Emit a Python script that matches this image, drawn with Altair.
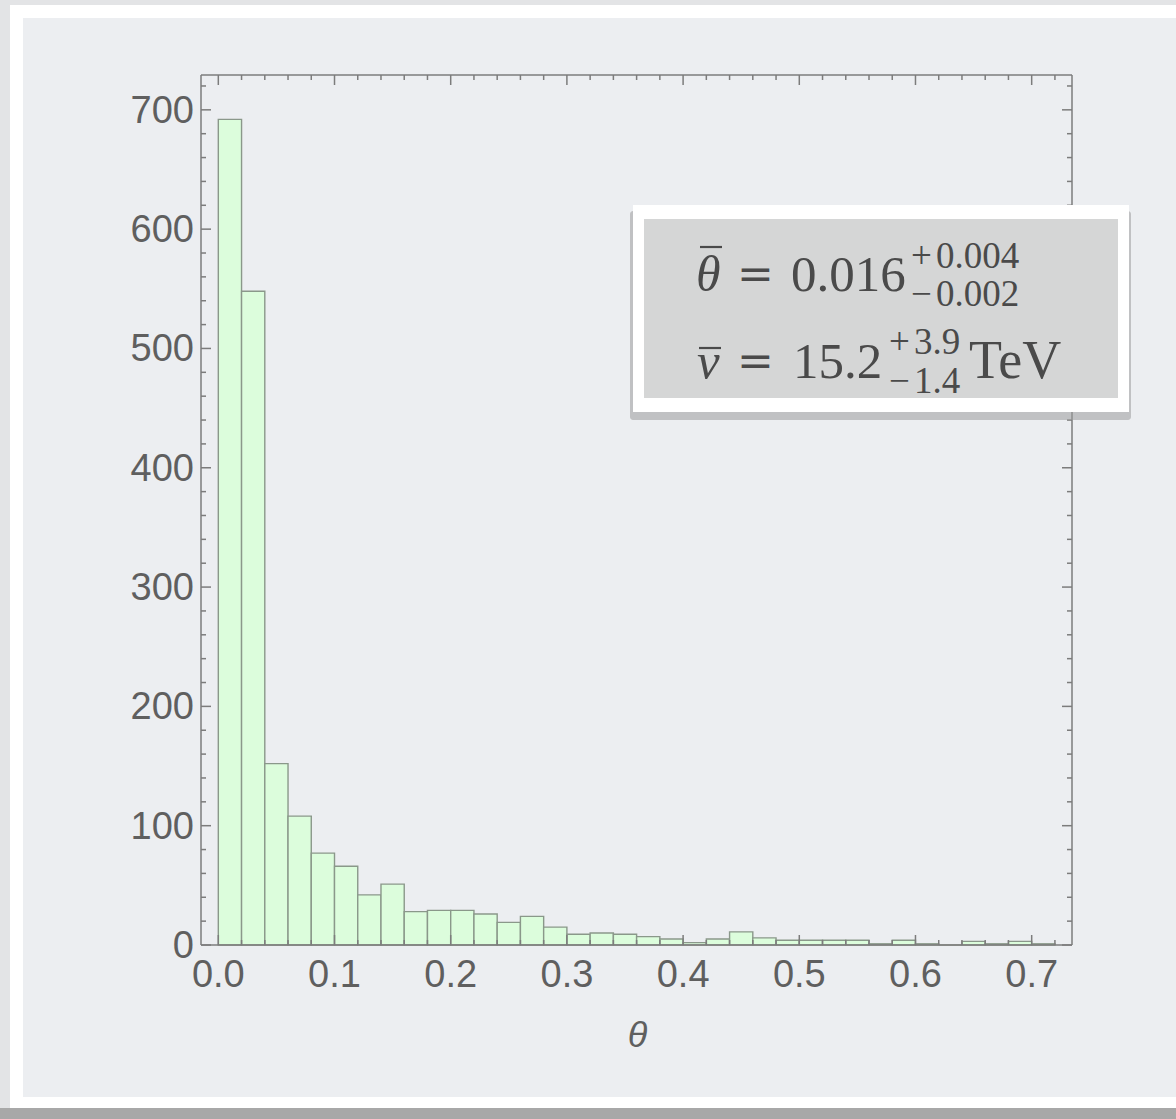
import altair as alt
import pandas as pd

# ---------------- data ----------------
bin_start = [0.00, 0.02, 0.04, 0.06, 0.08, 0.10, 0.12, 0.14, 0.16, 0.18,
             0.20, 0.22, 0.24, 0.26, 0.28, 0.30, 0.32, 0.34, 0.36, 0.38,
             0.40, 0.42, 0.44, 0.46, 0.48, 0.50, 0.52, 0.54, 0.56, 0.58,
             0.60, 0.62, 0.64, 0.66, 0.68, 0.70]
bin_width = 0.02
counts = [692, 548, 152, 108, 77, 66, 42, 51, 28, 29,
          29, 26, 19, 24, 15, 9, 10, 9, 7, 5,
          2, 5, 11, 6, 4, 4, 4, 4, 1, 4,
          1, 0, 3, 1, 3, 1]

x_major = [0.0, 0.1, 0.2, 0.3, 0.4, 0.5, 0.6, 0.7]
x_minor = [0.02, 0.04, 0.06, 0.08, 0.12, 0.14, 0.16, 0.18, 0.22, 0.24,
           0.26, 0.28, 0.32, 0.34, 0.36, 0.38, 0.42, 0.44, 0.46, 0.48,
           0.52, 0.54, 0.56, 0.58, 0.62, 0.64, 0.66, 0.68, 0.72]
y_major = [0, 100, 200, 300, 400, 500, 600, 700]
y_minor = [20, 40, 60, 80, 120, 140, 160, 180, 220, 240, 260, 280, 320, 340,
           360, 380, 420, 440, 460, 480, 520, 540, 560, 580, 620, 640, 660,
           680, 720]

x_domain = [-0.0149, 0.7347]
y_domain = [0, 729.2]

# ---------------- layout ----------------
W, H = 871, 870
PAD = {"left": 201, "top": 75, "right": 104, "bottom": 174}

AXIS_GRAY = "#7c7c7c"
LABEL_GRAY = "#5f5f5f"
TEXT_DARK = "#4a4a4a"

bars_df = pd.DataFrame({"start": bin_start, "count": counts})
bars_df["end"] = bars_df["start"] + bin_width
one = pd.DataFrame({"k": [0]})

xs = alt.Scale(domain=x_domain, nice=False, zero=False)
ys = alt.Scale(domain=y_domain, nice=False, zero=False)


def deco_rect(x, x2, y, y2, fill, opacity=1.0, r=0):
    return alt.Chart(one).mark_rect(fill=fill, opacity=opacity, cornerRadius=r).encode(
        x=alt.value(x), x2=alt.value(x2), y=alt.value(y), y2=alt.value(y2))


def deco_rule(x, x2, y, y2, color=AXIS_GRAY, width=1.5):
    return alt.Chart(one).mark_rule(color=color, strokeWidth=width).encode(
        x=alt.value(x), x2=alt.value(x2), y=alt.value(y), y2=alt.value(y2))


def txt(s, x, y, size, italic=False, font="Liberation Serif", color=TEXT_DARK):
    return alt.Chart(one).mark_text(
        text=s, font=font, fontSize=size,
        fontStyle="italic" if italic else "normal",
        align="left", baseline="alphabetic", color=color,
    ).encode(x=alt.value(x), y=alt.value(y))


# slide-style background
bg_white = deco_rect(-191, 990, -70, 1033, "#ffffff")
bg_inner = deco_rect(-178, 990, -57, 1022, "#eceef1")
bg_shadow = deco_rect(-201, 990, 1033, 1044, "#a8a8a8")

# histogram bars
bars = alt.Chart(bars_df).mark_rect(
    fill="#dcfddc", stroke="#8a988a", strokeWidth=1.4
).encode(
    x=alt.X("start:Q", scale=xs, axis=None),
    x2="end:Q",
    y=alt.Y("count:Q", scale=ys, axis=None),
    y2=alt.datum(0),
)

# frame
frame = [
    deco_rule(0, W, 0, 0),
    deco_rule(0, W, H, H),
    deco_rule(0, 0, 0, H),
    deco_rule(W, W, 0, H),
]


# inward ticks on all four sides
def xticks(values, length):
    d = pd.DataFrame({"v": values})
    bottom = alt.Chart(d).mark_rule(color=AXIS_GRAY, strokeWidth=1.5).encode(
        x=alt.X("v:Q", scale=xs, axis=None),
        y=alt.value(H), y2=alt.value(H - length))
    top = alt.Chart(d).mark_rule(color=AXIS_GRAY, strokeWidth=1.5).encode(
        x=alt.X("v:Q", scale=xs, axis=None),
        y=alt.value(0), y2=alt.value(length))
    return [bottom, top]


def yticks(values, length):
    d = pd.DataFrame({"v": values})
    left = alt.Chart(d).mark_rule(color=AXIS_GRAY, strokeWidth=1.5).encode(
        y=alt.Y("v:Q", scale=ys, axis=None),
        x=alt.value(0), x2=alt.value(length))
    right = alt.Chart(d).mark_rule(color=AXIS_GRAY, strokeWidth=1.5).encode(
        y=alt.Y("v:Q", scale=ys, axis=None),
        x=alt.value(W), x2=alt.value(W - length))
    return [left, right]


ticks = xticks(x_major, 10) + xticks(x_minor, 5) + yticks(y_major, 10) + yticks(y_minor, 5)

# tick labels (through the scales)
x_labels = alt.Chart(pd.DataFrame({"v": x_major})).mark_text(
    font="Liberation Sans", fontSize=38, color=LABEL_GRAY,
    align="center", baseline="alphabetic"
).encode(
    x=alt.X("v:Q", scale=xs, axis=None),
    y=alt.value(H + 42),
    text=alt.Text("v:Q", format=".1f"),
)
y_labels = alt.Chart(pd.DataFrame({"v": y_major})).mark_text(
    font="Liberation Sans", fontSize=38, color=LABEL_GRAY,
    align="right", baseline="alphabetic", dy=13
).encode(
    y=alt.Y("v:Q", scale=ys, axis=None),
    x=alt.value(-7),
    text=alt.Text("v:Q", format="d"),
)

# axis title
x_title = alt.Chart(one).mark_text(
    text="θ", font="Liberation Sans", fontSize=36, fontStyle="italic",
    align="center", baseline="alphabetic", color=LABEL_GRAY
).encode(x=alt.value(W / 2 + 1), y=alt.value(972))

# inset annotation box
box = [
    deco_rect(429, 930, 136, 345, "#9c9c9c", opacity=0.55, r=3),
    deco_rect(432, 928, 130, 337, "#ffffff"),
    deco_rect(443, 917, 144, 323, "#d5d6d6"),
]
EQ_FONT = "DejaVu Serif"
annot = [
    # line 1: theta-bar = 0.016 (+0.004 / -0.002)
    txt("θ", 495, 216, 50, italic=True),
    deco_rule(499, 521, 172, 172, color=TEXT_DARK, width=2.2),
    txt("=", 536, 214, 44, font=EQ_FONT),
    txt("0.016", 590, 216, 51),
    txt("+", 710, 193, 37),
    txt("0.004", 735, 193, 37),
    txt("−", 710, 231, 37),
    txt("0.002", 735, 231, 37),
    # line 2: v-bar = 15.2 (+3.9 / -1.4) TeV
    txt("v", 496, 303, 51, italic=True),
    deco_rule(498, 520, 273, 273, color=TEXT_DARK, width=2.2),
    txt("=", 536, 301, 44, font=EQ_FONT),
    txt("15.2", 592, 303, 51),
    txt("+", 688, 279, 37),
    txt("3.9", 713, 279, 37),
    txt("−", 688, 318, 37),
    txt("1.4", 713, 318, 37),
    txt("TeV", 768, 303, 54),
]

chart = alt.layer(
    bg_white, bg_inner, bg_shadow, bars, *frame, *ticks,
    x_labels, y_labels, x_title, *box, *annot
).properties(
    width=W, height=H,
    autosize=alt.AutoSizeParams(type="none"),
    padding=PAD,
).configure(
    background="#e3e4e6",
).configure_view(
    stroke="transparent", strokeWidth=0
)

chart.save("out.html", embed_options={"renderer": "svg", "actions": False})
